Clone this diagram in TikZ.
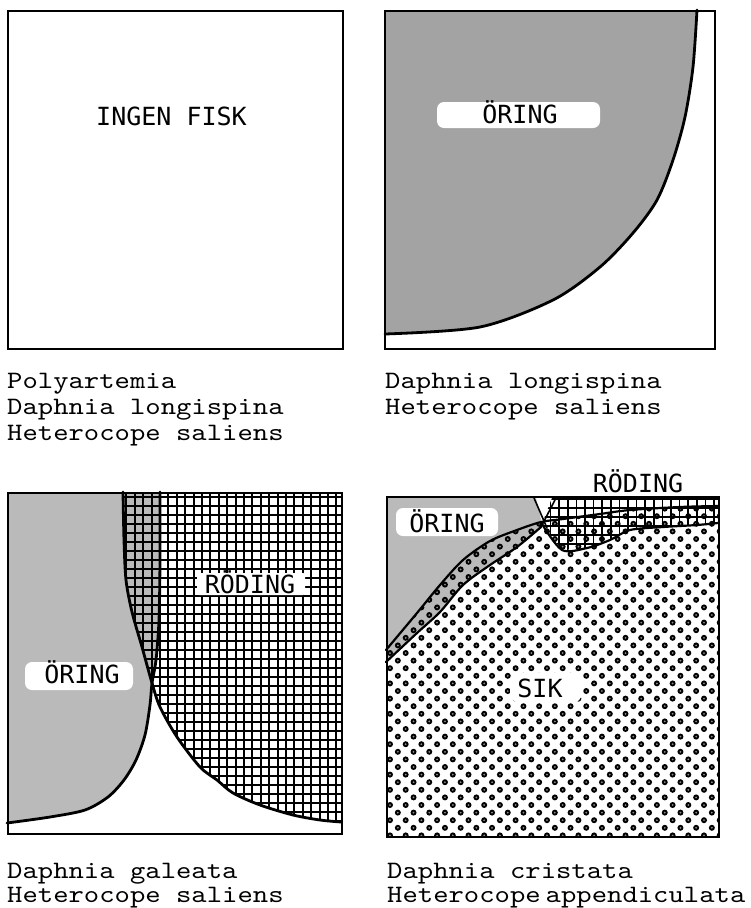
\documentclass[tikz,border=0pt]{standalone}
\usepackage{fontspec}
\newfontfamily\capfont{lmmono10-regular}[Extension=.otf, FakeStretch=1.17]
\newfontfamily\labfont{DejaVu Sans Mono}
\begin{document}
\begin{tikzpicture}[x=1pt,y=-1pt,
  frame/.style={draw=black, line width=2pt},
  bound/.style={draw=black, line width=2.8pt, line join=round, line cap=round},
  gridline/.style={draw=black, line width=2pt},
  captxt/.style={anchor=base west, inner sep=0pt, font=\capfont\fontsize{25}{26}\selectfont},
  labtxt/.style={anchor=base, inner sep=0pt, font=\labfont\fontsize{25}{26}\selectfont},
  whitebox/.style={fill=white, rounded corners=7pt, inner sep=0pt},
  stipdark/.style={fill=black!36},
  stiplight/.style={fill=black!27},
  sikdot/.style={fill=black}]
\useasboundingbox (0,0) rectangle (750,908);

% ---------------- Panel TL ----------------
\node[frame, anchor=north west, minimum width=335pt, minimum height=338pt, inner sep=0pt] (tl) at (7,10) {};
\node[labtxt] (tl-lab) at (171.5,125) {INGEN FISK};
\node[captxt] (tl-c1) at (7,388) {Polyartemia};
\node[captxt] (tl-c2) at (7,414) {Daphnia longispina};
\node[captxt] (tl-c3) at (7,440) {Heterocope saliens};

% ---------------- Panel TR ----------------
\fill[stipdark] (384,10) -- plot[smooth] coordinates {(697,10) (693,67) (685,117) (673,160) (657,200) (633,233) (600,267) (553,300) (480,327) (385,334)} -- cycle;
\draw[bound] plot[smooth] coordinates {(697,10) (693,67) (685,117) (673,160) (657,200) (633,233) (600,267) (553,300) (480,327) (385,334)};
\node[frame, anchor=north west, minimum width=330pt, minimum height=338pt, inner sep=0pt] (tr) at (384,10) {};
\node[whitebox, minimum width=163pt, minimum height=26pt] (tr-box) at (518.5,115) {};
\node[labtxt] (tr-lab) at (520,123) {ÖRING};
\node[captxt] (tr-c1) at (385,388) {Daphnia longispina};
\node[captxt] (tr-c2) at (385,414) {Heterocope saliens};

% ---------------- Panel BL ----------------
\fill[stiplight] (7,492) -- plot[smooth] coordinates {(160,492) (160,560) (159,620) (156,660) (152,683) (150,705) (145,735) (136,760) (124,780) (108,797) (85,810) (50,817) (7,823)} -- cycle;
\begin{scope}
  \clip plot[smooth] coordinates {(123,492) (124,540) (126,580) (132,612) (142,647) (152,683) (160,707) (177,737) (200,767) (217,780) (233,793) (260,805) (293,815) (320,820) (341,822)} -- (341,492) -- cycle;
  \foreach \gx in {0,...,27} {\draw[gridline] (118+8.4*\gx,488) -- (118+8.4*\gx,836);}
  \foreach \gy in {0,...,38} {\draw[gridline] (100,497+9*\gy) -- (345,497+9*\gy);}
\end{scope}
\draw[bound] plot[smooth] coordinates {(160,492) (160,560) (159,620) (156,660) (152,683) (150,705) (145,735) (136,760) (124,780) (108,797) (85,810) (50,817) (7,823)};
\draw[bound] plot[smooth] coordinates {(123,492) (124,540) (126,580) (132,612) (142,647) (152,683) (160,707) (177,737) (200,767) (217,780) (233,793) (260,805) (293,815) (320,820) (341,822)};
\node[frame, anchor=north west, minimum width=334pt, minimum height=341pt, inner sep=0pt] (bl) at (7,492) {};
\node[whitebox, minimum width=108pt, minimum height=28pt] (bl-obox) at (79,676) {};
\node[labtxt] (bl-olab) at (82,683) {ÖRING};
\node[whitebox, rounded corners=2pt, minimum width=108pt, minimum height=22pt] (bl-rbox) at (251,584) {};
\node[labtxt] (bl-rlab) at (250,593) {RÖDING};
\node[captxt] (bl-c1) at (7,878) {Daphnia galeata};
\node[captxt] (bl-c2) at (7,902) {Heterocope saliens};

% ---------------- Panel BR ----------------
% gray (ÖRING)
\fill[stiplight] (386,498) -- (536,498) -- (542,524) -- plot[smooth] coordinates {(541,527) (517,547) (490,565) (463,585) (440,612) (417,633) (386,662)} -- cycle;
% dots (SIK)
\begin{scope}
  \clip (386,836) -- plot[smooth] coordinates {(386,650) (417,613) (440,585) (463,560) (490,541) (517,530) (541,522) (563,519) (600,514) (630,510) (680,507) (718,506)} -- (718,836) -- cycle;
  \foreach \j in {0,...,44} {
    \foreach \i in {0,...,21} {
      \pgfmathsetmacro\dx{390+15.7*\i+7.85*mod(\j,2)}
      \pgfmathsetmacro\dy{501+7.6*\j}
      \fill[sikdot] (\dx,\dy) circle (3);
      \fill[black!45] (\dx,\dy) circle (1);
    }
  }
\end{scope}
% grid (RÖDING)
\begin{scope}
  \clip (552,498) -- (718,498) -- plot[smooth] coordinates {(718,523) (697,525) (663,527) (630,530) (610,540) (587,548) (562,550)} -- (542,524) -- cycle;
  \foreach \gx in {0,...,21} {\draw[gridline, line width=1.6pt] (542+8.6*\gx,494) -- (542+8.6*\gx,556);}
  \foreach \gy in {0,...,6} {\draw[gridline, line width=1.6pt] (536,499+9*\gy) -- (722,499+9*\gy);}
\end{scope}
\draw[bound, line width=2.2pt] plot[smooth] coordinates {(386,650) (417,613) (440,585) (463,560) (490,541) (517,530) (541,522) (563,519) (600,514) (630,510) (680,507) (718,506)};
\draw[bound, line width=2.2pt] plot[smooth] coordinates {(718,523) (697,525) (663,527) (630,530) (610,540) (587,548) (562,550) (542,524)};
\draw[bound, line width=2.2pt] plot[smooth] coordinates {(541,527) (517,547) (490,565) (463,585) (440,612) (417,633) (386,662)};
\draw[bound, line width=1.6pt] (534,498) -- (547,528);
\draw[bound, line width=1.6pt] (556,498) -- (541,527);
\node[frame, anchor=north west, minimum width=332pt, minimum height=340pt, inner sep=0pt] (br) at (386,496) {};
\node[whitebox, minimum width=102pt, minimum height=28pt] (br-obox) at (447,522) {};
\node[labtxt] (br-olab) at (447,532) {ÖRING};
\node[whitebox, rounded corners=10pt, minimum width=72pt, minimum height=30pt] (br-sbox) at (546,688) {};
\node[labtxt] (br-slab) at (540,697) {SIK};
\node[labtxt] (br-rlab) at (638,492) {RÖDING};
\node[captxt] (br-c1) at (387,878) {Daphnia cristata};
\node[captxt] (br-c2) at (387,902) {Heterocope\hspace{0.2em}appendiculata};
\end{tikzpicture}
\end{document}
